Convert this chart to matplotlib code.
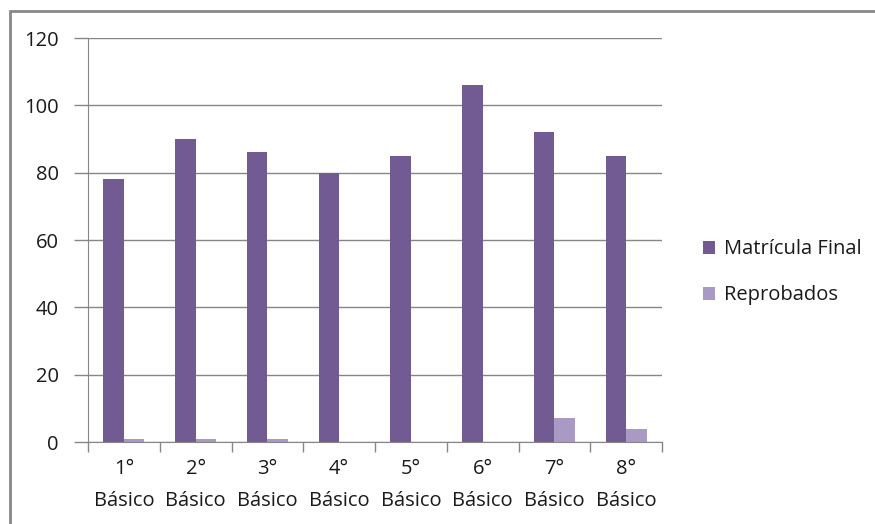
import numpy as np
import matplotlib.pyplot as plt
from matplotlib.patches import Rectangle

categorias = ["1°\nBásico", "2°\nBásico", "3°\nBásico", "4°\nBásico",
              "5°\nBásico", "6°\nBásico", "7°\nBásico", "8°\nBásico"]
matricula_final = [78, 90, 86, 80, 85, 106, 92, 85]
reprobados = [1, 1, 1, 0, 0, 0, 7, 4]

plt.rcParams['font.family'] = ['Open Sans', 'DejaVu Sans']

fig = plt.figure(figsize=(8.75, 5.24), dpi=100)
ax = fig.add_axes([88/875, 1-442/524, (662-88)/875, (442-38)/524])

x = np.arange(len(categorias))
w = 0.285
ax.bar(x - w/2, matricula_final, w, color='#725b92', label='Matrícula Final')
ax.bar(x + w/2, reprobados, w, color='#a999c5', label='Reprobados')

ax.set_xlim(-0.5, len(categorias) - 0.5)
ax.set_ylim(0, 120)
ax.set_yticks(range(0, 121, 20))
ax.yaxis.grid(True, color='#868686', linewidth=1)
ax.set_axisbelow(True)

fs = 14.5
ax.set_xticks(np.arange(len(categorias) + 1) - 0.5)
ax.set_xticklabels([])
ax.set_xticks(x, minor=True)
ax.set_xticklabels(categorias, minor=True, fontsize=fs, color='#1a1a1a', linespacing=1.8)
ax.tick_params(axis='x', which='major', length=7, color='#868686', width=1)
ax.tick_params(axis='x', which='minor', length=0, pad=12.5)
ax.tick_params(axis='y', length=10, color='#868686', width=1, labelsize=fs,
               labelcolor='#1a1a1a', pad=11)

for s in ['top', 'right']:
    ax.spines[s].set_visible(False)
for s in ['left', 'bottom']:
    ax.spines[s].set_color('#868686')

ax.legend(loc='center left', bbox_to_anchor=(1.04, 0.42), frameon=False,
          fontsize=fs, handlelength=0.6, handleheight=0.6, handletextpad=0.45,
          labelspacing=1.3, labelcolor='#1a1a1a')

fig.patches.append(Rectangle((10/875, -0.1), 1.2, 1 - 11/524 + 0.1,
                             transform=fig.transFigure, fill=False,
                             edgecolor='#888888', linewidth=2))

fig.savefig('out.png', dpi=100)
